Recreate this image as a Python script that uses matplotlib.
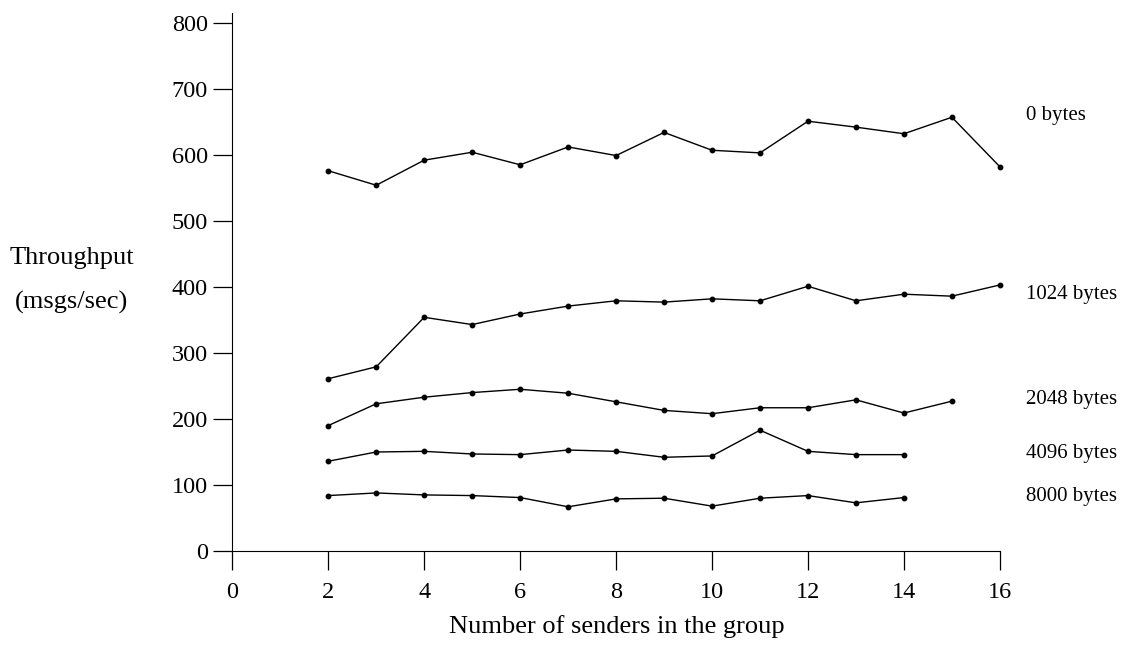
import matplotlib
matplotlib.use('Agg')
import matplotlib.pyplot as plt

plt.rcParams['font.family'] = ['Liberation Serif', 'DejaVu Serif']

# Datos (mensajes por segundo)
senders = list(range(2, 17))
bytes_0 = [576, 554, 592, 604, 585, 612, 599, 634, 607, 603, 651, 642, 632, 657, 582]
bytes_1024 = [261, 279, 354, 343, 359, 371, 379, 377, 382, 379, 401, 379, 389, 386, 403]
bytes_2048 = [190, 223, 233, 240, 245, 239, 226, 213, 208, 217, 217, 229, 209, 227]
bytes_4096 = [136, 150, 151, 147, 146, 153, 151, 142, 144, 183, 151, 146, 146]
bytes_8000 = [84, 88, 85, 84, 81, 67, 79, 80, 68, 80, 84, 73, 81]

series = [bytes_0, bytes_1024, bytes_2048, bytes_4096, bytes_8000]
names = ['0 bytes', '1024 bytes', '2048 bytes', '4096 bytes', '8000 bytes']
label_y = [659, 389, 229, 148, 83]

fig = plt.figure(figsize=(11.26, 6.46), dpi=100)
ax = fig.add_axes([0.2063, 0.147, 0.888 - 0.2063, 0.980 - 0.147])

for vals, name, ly in zip(series, names, label_y):
    ax.plot(senders[:len(vals)], vals, color='black', lw=1.0, marker='o', ms=3.2, clip_on=False)
    ax.text(16.55, ly, name, fontsize=15, va='center', ha='left', clip_on=False)

ax.set_xlim(0, 16)
ax.set_ylim(0, 815)
ax.set_xticks(range(0, 17, 2))
ax.set_yticks(range(0, 801, 100))
ax.spines['top'].set_visible(False)
ax.spines['right'].set_visible(False)
ax.tick_params(direction='out', length=13.5, width=0.9, labelsize=17.5, pad=4)
ax.tick_params(axis='x', pad=9)

fig.text(72 / 1126, 1 - 258 / 646, 'Throughput', ha='center', va='center', fontsize=19)
fig.text(72 / 1126, 1 - 302 / 646, '(msgs/sec)', ha='center', va='center', fontsize=19)
fig.text(617 / 1126, 1 - 627 / 646, 'Number of senders in the group', ha='center', va='center', fontsize=19)

fig.savefig('out.png', dpi=100)
